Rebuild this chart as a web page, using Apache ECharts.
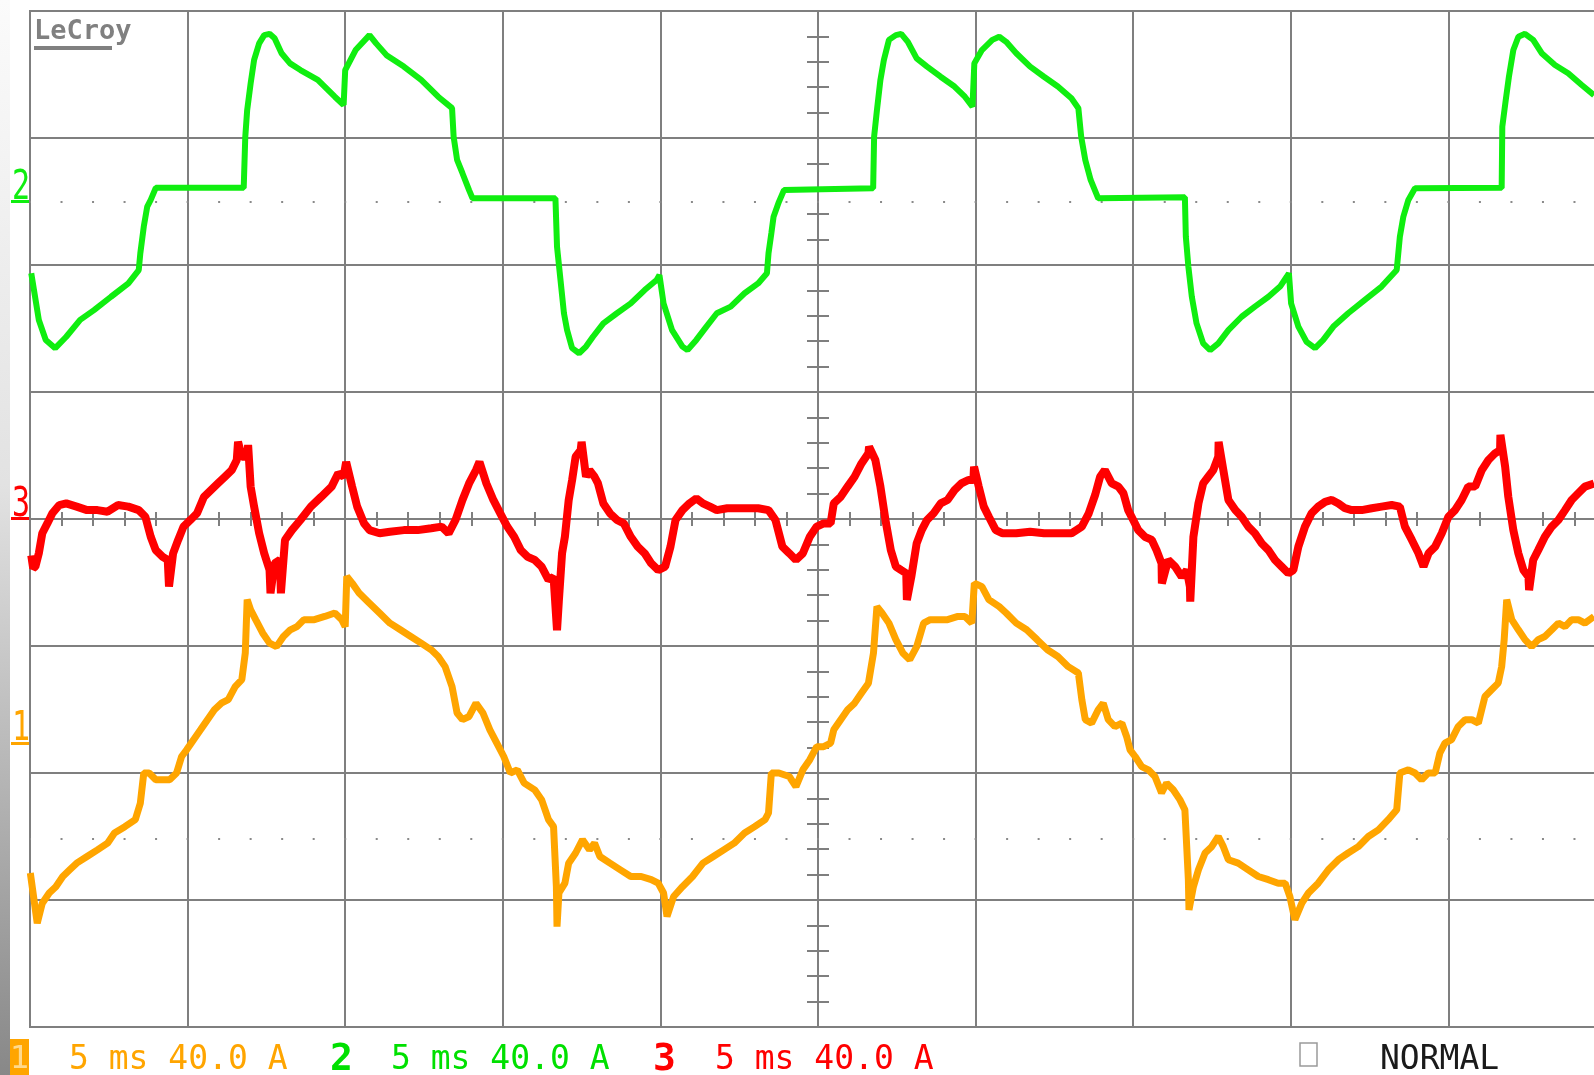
<!DOCTYPE html>
<html><head><meta charset="utf-8">
<script src="https://cdn.jsdelivr.net/npm/echarts@6/dist/echarts.min.js"></script>
<style>html,body{margin:0;padding:0;background:#fff;overflow:hidden}#c{width:1594px;height:1075px;}</style>
</head><body><div id="c"></div><script>
// Time base 5 ms/div, 40 A/div for all channels. Times in ms, currents in A (relative to each channel's ground marker).
const timeMin = 0, timeMax = 50, timePerDiv = 5;
const ampsPerDiv = 40;
const divMin = -4, divMax = 4;
const ch1Ground = -1.76, ch2Ground = 2.5, ch3Ground = 0; // ground markers, divisions from screen centre
const bottomLabels = ['5 ms 40.0 A', '5 ms 40.0 A', '5 ms 40.0 A'];
const modeLabel = 'NORMAL';

// Channel 2 (green)
const ch2T = [0.04,0.28,0.50,0.80,1.15,1.59,2.03,2.57,3.12,3.45,3.50,3.61,3.72,3.83,3.99,6.78,6.83,6.89,7.00,7.11,7.27,7.43,7.60,7.76,7.98,8.25,8.58,9.13,9.67,9.95,10.00,10.33,10.77,10.98,11.31,11.86,12.41,12.95,13.39,13.44,13.55,13.72,13.93,14.04,16.67,16.72,16.83,16.94,17.04,17.20,17.42,17.64,17.86,18.19,18.62,19.06,19.50,19.88,19.97,20.10,20.37,20.70,20.86,21.14,21.46,21.79,22.23,22.67,23.10,23.38,23.43,23.52,23.59,23.76,23.92,26.75,26.78,26.87,26.98,27.09,27.25,27.47,27.64,27.85,28.13,28.46,28.89,29.33,29.66,29.90,29.96,30.20,30.53,30.75,30.97,31.29,31.73,32.17,32.61,33.04,33.26,33.35,33.48,33.65,33.89,36.64,36.67,36.75,36.86,37.01,37.22,37.44,37.70,38.02,38.44,38.86,39.29,39.66,39.87,39.94,40.01,40.24,40.50,40.77,41.03,41.35,41.82,42.35,42.88,43.36,43.46,43.57,43.73,43.94,46.69,46.71,46.82,46.92,47.06,47.22,47.43,47.69,47.96,48.38,48.80,49.23,49.62];
const ch2A = [-22.6,-37.3,-43.6,-46.2,-42.6,-37.3,-34.2,-30.0,-25.8,-21.6,-16.3,-7.9,-1.6,0.5,4.3,4.3,20.4,28.8,37.2,44.6,49.8,52.4,52.8,51.4,46.7,43.5,41.4,38.3,33.0,30.4,41.4,47.7,52.4,49.8,46.1,42.5,38.3,33.0,29.4,20.4,13.1,8.9,3.6,1.0,1.0,-14.2,-24.7,-35.2,-40.5,-46.2,-47.8,-45.7,-42.6,-38.4,-35.2,-32.1,-27.9,-24.7,-23.2,-32.1,-40.5,-45.7,-46.8,-43.6,-39.4,-35.2,-33.1,-28.9,-25.8,-22.6,-16.3,-10.0,-4.8,-0.1,3.6,4.2,20.4,28.8,38.3,44.6,50.9,52.4,52.8,50.3,45.1,42.5,39.3,36.2,33.0,29.9,43.5,47.7,50.9,51.9,50.3,46.7,42.5,39.3,36.2,32.5,29.4,20.4,13.1,6.8,1.0,1.3,-11.1,-20.5,-30.0,-38.4,-44.7,-46.8,-44.7,-40.5,-36.3,-33.1,-30.0,-26.8,-23.7,-22.6,-32.1,-39.4,-44.2,-46.2,-43.6,-39.4,-35.2,-31.0,-26.8,-21.6,-11.1,-4.8,0.5,4.2,4.3,23.6,32.0,39.3,47.7,51.9,52.8,50.9,46.7,43.0,40.4,36.7,33.5];

// Channel 3 (red)
const ch3T = [0.04,0.10,0.17,0.28,0.39,0.55,0.71,0.93,1.15,1.48,1.81,2.14,2.46,2.79,3.12,3.45,3.66,3.83,3.99,4.21,4.37,4.41,4.54,4.70,4.87,5.09,5.30,5.52,5.74,5.96,6.18,6.40,6.56,6.60,6.72,6.89,6.92,7.00,7.11,7.27,7.43,7.60,7.63,7.76,7.93,7.96,8.09,8.31,8.58,8.91,9.24,9.57,9.78,9.95,10.03,10.22,10.38,10.60,10.77,11.09,11.42,11.86,12.30,12.73,13.06,13.28,13.50,13.72,13.93,14.15,14.26,14.48,14.70,14.92,15.14,15.36,15.57,15.79,16.01,16.23,16.45,16.61,16.72,16.78,16.88,16.97,17.09,17.20,17.31,17.47,17.50,17.64,17.75,17.91,18.02,18.19,18.40,18.62,18.84,19.06,19.28,19.50,19.71,19.93,20.15,20.32,20.48,20.70,20.92,21.14,21.35,21.57,21.79,22.12,22.45,22.77,23.10,23.43,23.65,23.87,24.09,24.30,24.52,24.74,24.96,25.18,25.40,25.50,25.72,25.94,26.16,26.38,26.60,26.62,26.82,26.98,27.14,27.31,27.47,27.64,27.80,27.82,27.96,28.13,28.29,28.46,28.67,28.89,29.11,29.33,29.55,29.77,29.93,29.95,30.10,30.26,30.42,30.64,30.86,31.29,31.73,32.17,32.61,33.04,33.37,33.59,33.79,33.95,34.10,34.32,34.53,34.69,34.84,35.00,35.16,35.37,35.59,35.74,35.90,35.91,36.11,36.33,36.54,36.70,36.80,36.81,36.91,37.07,37.22,37.38,37.54,37.70,37.71,37.86,38.02,38.24,38.44,38.65,38.86,39.08,39.29,39.50,39.71,39.92,40.08,40.24,40.45,40.66,40.87,41.09,41.30,41.51,41.72,41.93,42.25,42.57,42.88,43.20,43.46,43.62,43.84,44.05,44.21,44.37,44.58,44.79,45.00,45.21,45.42,45.63,45.85,46.06,46.27,46.48,46.64,46.65,46.80,46.90,47.06,47.22,47.38,47.54,47.56,47.69,47.85,48.06,48.28,48.49,48.70,48.91,49.12,49.33,49.62];
const ch3A = [-11.5,-15.5,-15.0,-10.8,-4.5,-1.4,1.8,4.4,4.9,3.9,2.8,2.8,2.3,4.4,3.9,2.8,0.7,-5.6,-9.8,-11.9,-12.9,-21.3,-10.8,-6.6,-2.4,-0.3,1.8,7.0,9.1,11.2,13.3,15.4,18.6,24.3,19.6,19.6,23.3,10.2,3.9,-4.5,-10.8,-16.1,-23.4,-14.0,-12.9,-23.4,-6.6,-3.5,-0.3,3.9,7.0,10.2,14.4,13.3,18.0,10.2,3.9,-1.4,-3.5,-4.5,-4.0,-3.5,-3.5,-2.9,-2.4,-4.5,-0.3,6.0,11.2,15.4,18.0,11.2,6.0,1.8,-2.4,-5.6,-9.8,-11.9,-12.9,-15.0,-19.2,-18.2,-35.0,-25.5,-10.8,-5.6,5.9,12.3,19.6,21.7,24.3,13.3,15.4,13.3,11.2,4.9,1.8,-0.3,-1.4,-5.6,-8.7,-10.8,-14.0,-16.1,-15.0,-8.7,-0.3,2.8,4.9,6.5,4.9,3.9,2.8,3.4,3.4,3.4,3.4,2.8,-0.3,-8.7,-10.8,-12.9,-10.8,-5.6,-2.4,-1.4,-1.4,4.9,7.0,10.2,13.3,17.5,20.7,22.8,18.6,10.2,-0.3,-9.8,-15.0,-16.1,-17.1,-25.5,-18.2,-7.7,-3.5,-0.3,1.8,4.9,6.0,9.1,11.2,12.3,12.3,16.5,10.2,3.9,0.7,-3.5,-4.5,-4.5,-4.0,-4.5,-4.5,-4.5,-2.4,1.8,7.5,13.3,15.4,11.2,10.2,8.1,2.8,-0.3,-3.5,-5.6,-6.6,-9.8,-14.0,-20.3,-12.9,-15.0,-18.2,-16.1,-21.3,-26.0,-5.6,4.9,11.2,13.3,15.4,19.6,24.3,15.4,6.0,2.8,0.7,-2.4,-4.5,-7.7,-9.8,-12.9,-15.0,-17.1,-16.1,-8.7,-2.4,1.8,3.9,5.4,6.0,4.9,3.4,2.8,2.8,3.4,3.9,4.4,3.9,-2.4,-6.6,-10.8,-15.0,-10.8,-8.7,-4.5,0.7,2.8,6.0,10.2,10.2,15.4,18.6,20.7,21.7,26.5,16.5,7.0,-3.5,-10.8,-16.1,-18.2,-22.4,-12.9,-9.8,-5.6,-2.4,-0.3,2.8,6.0,8.1,10.2,11.2];

// Channel 1 (orange)
const ch1T = [0.01,0.23,0.39,0.61,0.82,1.04,1.26,1.48,1.81,2.14,2.46,2.68,3.01,3.34,3.50,3.61,3.78,3.99,4.21,4.43,4.65,4.81,4.97,5.19,5.41,5.63,5.85,6.07,6.29,6.51,6.72,6.83,6.89,7.00,7.16,7.38,7.60,7.82,8.04,8.26,8.47,8.69,9.02,9.35,9.67,9.89,10.00,10.05,10.22,10.44,10.77,11.09,11.42,11.75,12.08,12.41,12.73,12.95,13.17,13.39,13.55,13.72,13.93,14.15,14.37,14.59,14.81,15.03,15.24,15.46,15.68,16.01,16.23,16.45,16.61,16.70,16.72,16.78,16.97,17.09,17.31,17.53,17.75,17.91,18.08,18.40,18.73,19.06,19.39,19.71,19.93,20.10,20.21,20.42,20.70,21.02,21.35,21.68,22.01,22.34,22.67,22.99,23.32,23.43,23.52,23.76,24.09,24.30,24.52,24.74,24.96,25.18,25.40,25.50,25.72,25.94,26.16,26.38,26.60,26.76,26.87,27.03,27.25,27.47,27.69,27.91,28.13,28.35,28.56,28.78,29.11,29.44,29.66,29.88,29.96,30.20,30.42,30.75,30.97,31.29,31.62,31.95,32.28,32.61,32.94,33.26,33.37,33.48,33.68,33.89,34.05,34.21,34.42,34.64,34.79,34.90,35.06,35.27,35.48,35.69,35.90,36.06,36.27,36.48,36.64,36.75,36.77,36.91,37.07,37.28,37.49,37.70,37.86,38.02,38.33,38.65,38.97,39.29,39.60,39.82,39.97,40.13,40.35,40.56,40.87,41.19,41.51,41.82,42.14,42.46,42.78,43.09,43.36,43.46,43.73,43.94,44.15,44.36,44.58,44.73,44.89,45.10,45.31,45.53,45.74,45.95,46.16,46.37,46.58,46.69,46.77,46.85,47.01,47.22,47.43,47.64,47.85,48.06,48.28,48.49,48.70,48.91,49.12,49.33,49.62];
const ch1A = [-41.1,-56.9,-50.6,-47.4,-45.4,-42.2,-40.1,-38.0,-35.9,-33.8,-31.7,-28.5,-26.5,-24.3,-19.1,-9.6,-9.6,-11.7,-11.7,-11.7,-9.6,-4.4,-2.3,0.9,4.0,7.2,10.3,12.4,13.5,17.6,19.8,28.2,45.0,41.8,38.7,34.5,31.3,30.2,33.4,35.5,36.5,38.7,38.7,39.7,40.8,38.7,36.5,52.3,50.2,47.1,43.9,40.8,37.6,35.5,33.4,31.3,29.2,27.1,23.9,17.6,9.3,7.2,8.2,12.4,9.3,4.0,-0.2,-4.4,-9.6,-8.6,-12.8,-14.9,-18.0,-24.3,-26.5,-45.4,-58.0,-47.4,-44.3,-38.0,-34.8,-30.6,-33.8,-31.7,-35.9,-38.0,-40.1,-42.2,-42.2,-43.2,-44.3,-47.4,-54.8,-48.5,-45.4,-42.2,-38.0,-35.9,-33.8,-31.7,-28.5,-26.5,-24.3,-22.2,-9.6,-9.6,-10.7,-13.9,-8.6,-5.4,-1.3,-1.3,-0.2,4.0,7.2,10.3,12.4,15.6,18.7,28.2,42.8,40.8,37.6,32.4,28.2,26.1,30.2,37.6,38.7,38.7,38.7,39.7,39.7,37.6,50.2,49.1,45.0,42.8,40.8,37.6,35.5,32.4,29.2,27.1,23.9,21.9,13.5,7.2,6.1,10.3,12.4,7.2,5.0,6.1,1.9,-2.3,-4.4,-7.6,-8.6,-10.7,-15.9,-12.8,-14.9,-18.0,-21.2,-43.2,-52.7,-45.4,-40.1,-34.8,-32.8,-29.6,-32.8,-36.9,-38.0,-40.1,-42.2,-43.2,-44.3,-44.3,-48.5,-55.8,-50.6,-47.4,-44.3,-40.1,-36.9,-34.8,-32.8,-29.6,-27.5,-24.3,-21.2,-9.6,-8.6,-9.6,-11.7,-9.6,-9.6,-3.3,-0.2,0.9,5.0,7.2,7.2,6.1,14.5,16.6,18.7,23.9,32.4,45.0,38.7,35.5,32.4,30.2,32.4,33.4,35.5,37.6,36.5,38.7,38.7,37.6,39.7];

const GRID = '#7f7f7f';
const C1 = '#ffa500', C2 = '#10ee10', C3 = '#ff0000';

function toPts(T, A, ground) { return T.map((t, i) => [t, ground + A[i] / ampsPerDiv]); }

const chart = echarts.init(document.getElementById('c'), null, {renderer: 'canvas'});
const hidden = {axisLabel: {show: false}, splitLine: {show: false}};
const tickAxisX = (pos) => Object.assign({
  type: 'value', min: timeMin, max: timeMax, interval: 1, position: pos, offset: -508,
  axisLine: {show: false, onZero: false},
  axisTick: {show: true, inside: true, length: 7, lineStyle: {color: GRID, width: 2}}
}, hidden);
const tickAxisY = (pos) => Object.assign({
  type: 'value', min: divMin, max: divMax, interval: 0.2, position: pos, offset: -788,
  axisLine: {show: false, onZero: false},
  axisTick: {show: true, inside: true, length: 11, lineStyle: {color: GRID, width: 2}}
}, hidden);

chart.setOption({
  animation: false,
  backgroundColor: '#ffffff',
  grid: {left: 30, top: 11, width: 1576, height: 1016, show: true, borderColor: GRID, borderWidth: 2,
         containLabel: false, outerBoundsMode: 'none'},
  xAxis: [
    {type: 'value', min: timeMin, max: timeMax, interval: timePerDiv, axisLine: {show: false, onZero: false}, axisTick: {show: false}, axisLabel: {show: false},
     splitLine: {show: true, lineStyle: {color: GRID, width: 2}}},
    tickAxisX('bottom'), tickAxisX('top')
  ],
  yAxis: [
    {type: 'value', min: divMin, max: divMax, interval: 1, axisLine: {show: false, onZero: false}, axisTick: {show: false}, axisLabel: {show: false},
     splitLine: {show: true, lineStyle: {color: GRID, width: 2}}},
    tickAxisY('left'), tickAxisY('right')
  ],
  series: [
    {type: 'line', name: 'Ch1', data: toPts(ch1T, ch1A, ch1Ground), showSymbol: false, symbol: 'none', lineStyle: {color: C1, width: 7}, z: 3,
     markLine: {silent: true, symbol: 'none', label: {show: false}, animation: false,
       lineStyle: {type: [2, 29.52], dashOffset: 1, color: '#8a8a8a', width: 2},
       data: [{yAxis: 2.5}, {yAxis: -2.52}]}},
    {type: 'line', name: 'Ch3', data: toPts(ch3T, ch3A, ch3Ground), showSymbol: false, symbol: 'none', lineStyle: {color: C3, width: 8}, z: 4},
    {type: 'line', name: 'Ch2', data: toPts(ch2T, ch2A, ch2Ground), showSymbol: false, symbol: 'none', lineStyle: {color: C2, width: 6}, z: 5}
  ],
  graphic: [
    {type: 'rect', shape: {x: 0, y: 0, width: 10, height: 1075}, style: {fill: new echarts.graphic.LinearGradient(0, 0, 0, 1, [
      {offset: 0, color: '#fbfbfb'}, {offset: 0.45, color: '#e2e2e2'}, {offset: 1, color: '#888888'}])}, z: 10},
    {type: 'text', x: 34, y: 32, style: {text: 'LeCroy', font: 'bold 27px "DejaVu Sans Mono"', fill: '#808080', textVerticalAlign: 'middle'}, z: 10},
    {type: 'rect', shape: {x: 34, y: 46, width: 78, height: 4}, style: {fill: '#808080'}, z: 10},
    // channel markers
    {type: 'text', x: 12, y: 209, scaleY: 1.35, style: {text: '2', font: '30px "DejaVu Sans Mono"', fill: C2, textVerticalAlign: 'bottom'}, z: 10},
    {type: 'rect', shape: {x: 11, y: 200, width: 18, height: 3}, style: {fill: C2}, z: 10},
    {type: 'text', x: 12, y: 526, scaleY: 1.35, style: {text: '3', font: '30px "DejaVu Sans Mono"', fill: C3, textVerticalAlign: 'bottom'}, z: 10},
    {type: 'rect', shape: {x: 11, y: 517, width: 18, height: 3}, style: {fill: C3}, z: 10},
    {type: 'text', x: 12, y: 750, scaleY: 1.35, style: {text: '1', font: '30px "DejaVu Sans Mono"', fill: C1, textVerticalAlign: 'bottom'}, z: 10},
    {type: 'rect', shape: {x: 11, y: 742, width: 18, height: 3}, style: {fill: C1}, z: 10},
    // bottom status line
    {type: 'rect', shape: {x: 10, y: 1039, width: 19, height: 36}, style: {fill: C1}, z: 10},
    {type: 'text', x: 19.5, y: 1060, style: {text: '1', font: '32px "DejaVu Sans Mono"', fill: '#ffd98c', textAlign: 'center', textVerticalAlign: 'middle'}, z: 11},
    {type: 'text', x: 69, y: 1060, style: {text: bottomLabels[0], font: '33px "DejaVu Sans Mono"', fill: C1, textVerticalAlign: 'middle'}, z: 10},
    {type: 'text', x: 330, y: 1060, style: {text: '2', font: 'bold 38px "DejaVu Sans Mono"', fill: '#00e000', textVerticalAlign: 'middle'}, z: 10},
    {type: 'text', x: 391, y: 1060, style: {text: bottomLabels[1], font: '33px "DejaVu Sans Mono"', fill: '#00e000', textVerticalAlign: 'middle'}, z: 10},
    {type: 'text', x: 653, y: 1060, style: {text: '3', font: 'bold 38px "DejaVu Sans Mono"', fill: C3, textVerticalAlign: 'middle'}, z: 10},
    {type: 'text', x: 715, y: 1060, style: {text: bottomLabels[2], font: '33px "DejaVu Sans Mono"', fill: C3, textVerticalAlign: 'middle'}, z: 10},
    {type: 'rect', shape: {x: 1300, y: 1043, width: 17, height: 23}, style: {fill: 'none', stroke: '#9a9a9a', lineWidth: 1.5}, z: 10},
    {type: 'text', x: 1380, y: 1060, style: {text: modeLabel, font: '33px "DejaVu Sans Mono"', fill: '#1a1a1a', textVerticalAlign: 'middle'}, z: 10}
  ]
});
</script></body></html>
